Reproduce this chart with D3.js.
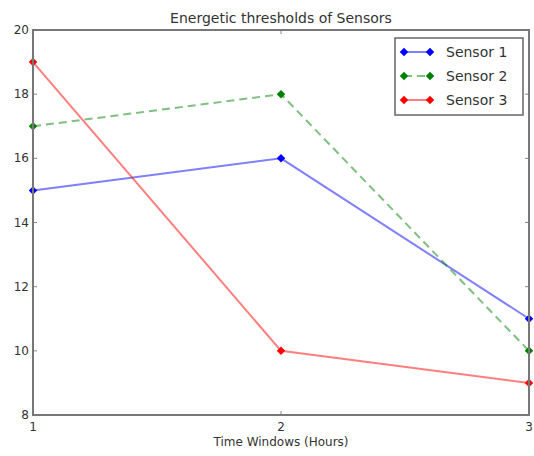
<!DOCTYPE html>
<html><head><meta charset="utf-8">
<script src="https://cdn.jsdelivr.net/npm/d3@7"></script>
<style>body{margin:0;background:#fff;} text{font-family:"DejaVu Sans",sans-serif;fill:#333;}</style>
</head><body><svg id="c" width="534" height="456"></svg>
<script>
const xValues = [1, 2, 3];
const sensor1 = [15, 16, 11];
const sensor2 = [17, 18, 10];
const sensor3 = [19, 10, 9];
const seriesNames = ["Sensor 1", "Sensor 2", "Sensor 3"];
const colors = ["#0000ff", "#008000", "#ff0000"];
const xTicks = [1, 2, 3];
const yTicks = [8, 10, 12, 14, 16, 18, 20];
const series = [sensor1, sensor2, sensor3];

const svg = d3.select("#c");
const L = 33, R = 529, T = 30, B = 415;
const x = d3.scaleLinear().domain([1, 3]).range([L, R]);
const y = d3.scaleLinear().domain([8, 20]).range([B, T]);
const diamond = d3.symbol().type(d3.symbolSquare).size(36);

const g = svg.append("g");
yTicks.forEach(t => {
  g.append("line").attr("x1", L).attr("x2", L + 4).attr("y1", y(t)).attr("y2", y(t)).attr("stroke", "#888");
  g.append("line").attr("x1", R).attr("x2", R - 4).attr("y1", y(t)).attr("y2", y(t)).attr("stroke", "#888");
  g.append("text").attr("x", L - 4).attr("y", y(t) + 4).attr("text-anchor", "end").attr("font-size", 12).text(t);
});
xTicks.forEach(t => {
  g.append("line").attr("x1", x(t)).attr("x2", x(t)).attr("y1", B).attr("y2", B - 4).attr("stroke", "#888");
  g.append("line").attr("x1", x(t)).attr("x2", x(t)).attr("y1", T).attr("y2", T + 4).attr("stroke", "#888");
  g.append("text").attr("x", x(t)).attr("y", B + 16).attr("text-anchor", "middle").attr("font-size", 12).text(t);
});

const line = d3.line().x((d, i) => x(xValues[i])).y(d => y(d));
series.forEach((s, k) => {
  svg.append("path").datum(s).attr("d", line).attr("fill", "none")
    .attr("stroke", colors[k]).attr("stroke-opacity", 0.5).attr("stroke-width", 2)
    .attr("stroke-dasharray", k === 1 ? "8,5" : null);
  svg.selectAll(null).data(s).enter().append("path")
    .attr("d", diamond)
    .attr("transform", (d, i) => `translate(${x(xValues[i])},${y(d)}) rotate(45)`)
    .attr("fill", colors[k]);
});

svg.append("rect").attr("x", L).attr("y", T).attr("width", R - L).attr("height", B - T)
  .attr("fill", "none").attr("stroke", "#777").attr("stroke-width", 2);

svg.append("text").attr("x", (L + R) / 2).attr("y", 23).attr("text-anchor", "middle").attr("font-size", 14).text("Energetic thresholds of Sensors");
svg.append("text").attr("x", (L + R) / 2).attr("y", 446).attr("text-anchor", "middle").attr("font-size", 12).text("Time Windows (Hours)");

const lg = svg.append("g");
lg.append("rect").attr("x", 395).attr("y", 38).attr("width", 128).attr("height", 77)
  .attr("fill", "#fff").attr("stroke", "#666").attr("stroke-width", 1.5);
seriesNames.forEach((n, k) => {
  const yy = 52 + k * 24;
  lg.append("line").attr("x1", 404).attr("x2", 430).attr("y1", yy).attr("y2", yy)
    .attr("stroke", colors[k]).attr("stroke-width", 2).attr("stroke-opacity", 0.5)
    .attr("stroke-dasharray", k === 1 ? "8,5" : null);
  [404, 430].forEach(cx => lg.append("path").attr("d", diamond)
    .attr("transform", `translate(${cx},${yy}) rotate(45)`).attr("fill", colors[k]));
  lg.append("text").attr("x", 446).attr("y", yy + 5).attr("font-size", 14).text(n);
});
</script></body></html>
